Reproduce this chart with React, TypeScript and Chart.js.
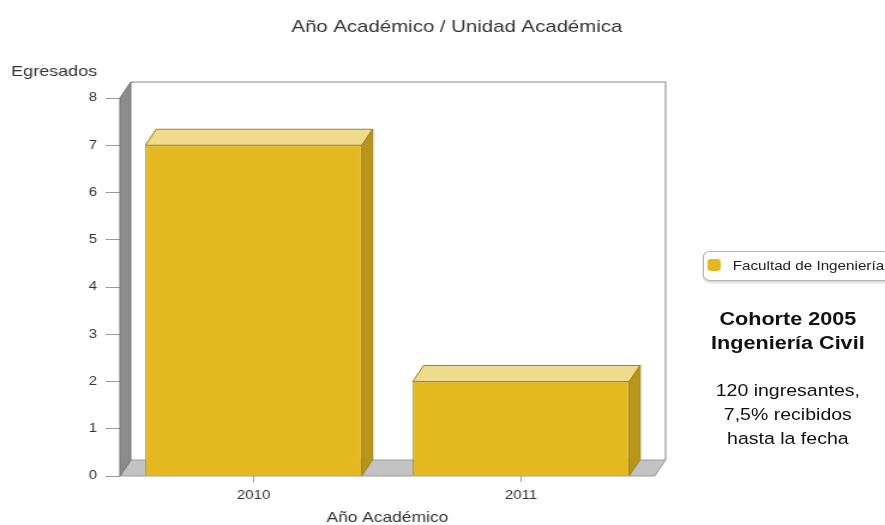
import React, { useEffect, useRef } from 'react';
import { Chart, registerables } from 'chart.js';

Chart.register(...registerables);

// ---- data ----
const categories = ['2010', '2011'];
const egresados = [7, 2];
const yTicks = [0, 1, 2, 3, 4, 5, 6, 7, 8];
const seriesName = 'Facultad de Ingeniería';
const chartTitle = 'Año Académico / Unidad Académica';
const xTitle = 'Año Académico';
const yTitle = 'Egresados';
const noteTitle = ['Cohorte 2005', 'Ingeniería Civil'];
const noteBody = ['120 ingresantes,', '7,5% recibidos', 'hasta la fecha'];

// ---- layout / style ----
const W = 738;
const H = 525;
const SX = 885 / W;
const DX = 9;
const DY = 16;
const FONT = "'Liberation Sans', Arial, sans-serif";
const BAR_FRONT = '#e4b91f';
const BAR_TOP = '#efdb8c';
const BAR_SIDE = '#b8961c';
const BAR_EDGE = '#a3841a';

function poly(ctx: CanvasRenderingContext2D, pts: number[][], fill: string, stroke: string, lw = 1) {
  ctx.beginPath();
  ctx.moveTo(pts[0][0], pts[0][1]);
  for (let i = 1; i < pts.length; i++) ctx.lineTo(pts[i][0], pts[i][1]);
  ctx.closePath();
  ctx.fillStyle = fill;
  ctx.fill();
  ctx.strokeStyle = stroke;
  ctx.lineWidth = lw;
  ctx.stroke();
}

const threeD = {
  id: 'threeD',
  beforeDatasetsDraw(chart: any) {
    const { ctx, chartArea } = chart;
    const { left, right, top, bottom } = chartArea;
    ctx.save();
    // back wall
    ctx.fillStyle = '#ffffff';
    ctx.fillRect(left + DX, top - DY, right - left, bottom - top);
    ctx.strokeStyle = '#b0b0b0';
    ctx.lineWidth = 1.5;
    ctx.beginPath();
    ctx.moveTo(left + DX, top - DY);
    ctx.lineTo(right + DX, top - DY);
    ctx.lineTo(right + DX, bottom - DY);
    ctx.stroke();
    // floor
    poly(ctx, [[left, bottom], [left + DX, bottom - DY], [right + DX, bottom - DY], [right, bottom]], '#c3c3c5', '#9c9c9c');
    // left wall
    poly(ctx, [[left, top], [left + DX, top - DY], [left + DX, bottom - DY], [left, bottom]], '#8c8c8c', '#727272');
    ctx.restore();
  },
  afterDatasetsDraw(chart: any) {
    const { ctx } = chart;
    const meta = chart.getDatasetMeta(0);
    ctx.save();
    meta.data.forEach((bar: any) => {
      const { x, y, base, width } = bar.getProps(['x', 'y', 'base', 'width'], true);
      const l = x - width / 2;
      const r = x + width / 2;
      poly(ctx, [[l, y], [l + DX, y - DY], [r + DX, y - DY], [r, y]], BAR_TOP, BAR_EDGE);
      poly(ctx, [[r, y], [r + DX, y - DY], [r + DX, base - DY], [r, base]], BAR_SIDE, BAR_EDGE);
    });
    ctx.restore();
  },
  afterDraw(chart: any) {
    const { ctx, chartArea } = chart;
    ctx.save();
    ctx.fillStyle = '#333333';
    ctx.textBaseline = 'alphabetic';
    ctx.font = `17px ${FONT}`;
    ctx.textAlign = 'center';
    ctx.fillText(chartTitle, 381, 32);
    ctx.font = `15px ${FONT}`;
    ctx.textAlign = 'right';
    ctx.fillText(yTitle, 81, 76);
    ctx.font = `14.5px ${FONT}`;
    ctx.textAlign = 'center';
    ctx.fillText(xTitle, (chartArea.left + chartArea.right) / 2, 522);
    ctx.restore();
  },
};

export default function App() {
  const ref = useRef<HTMLCanvasElement | null>(null);

  useEffect(() => {
    if (!ref.current) return;
    const chart = new Chart(ref.current, {
      type: 'bar',
      data: {
        labels: categories,
        datasets: [
          {
            label: seriesName,
            data: egresados,
            backgroundColor: BAR_FRONT,
            borderColor: BAR_EDGE,
            borderWidth: 1,
            categoryPercentage: 1,
            barPercentage: 0.81,
          },
        ],
      },
      options: {
        responsive: false,
        animation: false,
        layout: { padding: { top: 98, right: 192, left: 0, bottom: 0 } },
        plugins: {
          legend: { display: false },
          title: { display: false },
          tooltip: { enabled: false },
        },
        scales: {
          x: {
            grid: {
              display: true,
              offset: false,
              drawOnChartArea: false,
              drawTicks: true,
              tickLength: 6,
              color: '#9a9a9a',
            },
            border: { display: false },
            ticks: { padding: 6, color: '#333333', font: { family: FONT, size: 12.5 } },
            afterFit: (s: any) => {
              s.height = 49;
            },
          },
          y: {
            min: 0,
            max: 8,
            grid: { display: true, drawOnChartArea: false, drawTicks: true, tickLength: 12, color: '#9a9a9a' },
            border: { display: false },
            ticks: { stepSize: 1, padding: 7, color: '#333333', font: { family: FONT, size: 12.5 } },
            afterBuildTicks: (s: any) => {
              s.ticks = yTicks.map((v) => ({ value: v }));
            },
            afterFit: (s: any) => {
              s.width = 100;
            },
          },
        },
      } as any,
      plugins: [threeD],
    });
    return () => chart.destroy();
  }, []);

  return (
    <div
      style={{
        position: 'absolute',
        left: 0,
        top: 0,
        width: W,
        height: H,
        overflow: 'hidden',
        background: '#ffffff',
        transform: `scaleX(${SX})`,
        transformOrigin: '0 0',
        fontFamily: FONT,
        color: '#000',
      }}
    >
      <canvas ref={ref} width={W} height={H} style={{ display: 'block', width: W, height: H }} />
      <div
        style={{
          position: 'absolute',
          left: 586,
          top: 251,
          width: 170,
          height: 28,
          border: '1px solid #b5b5b5',
          borderRadius: 6,
          boxShadow: '1px 2px 2px rgba(0,0,0,0.15)',
          background: '#fff',
        }}
      >
        <div
          style={{
            position: 'absolute',
            left: 3,
            top: 7,
            width: 11,
            height: 12,
            borderRadius: 3,
            background: BAR_FRONT,
          }}
        />
        <div
          style={{
            position: 'absolute',
            left: 24,
            top: 0,
            height: 28,
            lineHeight: '28px',
            fontSize: 12.7,
            color: '#222',
            whiteSpace: 'nowrap',
          }}
        >
          {seriesName}
        </div>
      </div>
      <div
        style={{
          position: 'absolute',
          left: 557,
          width: 200,
          top: 307,
          textAlign: 'center',
          fontWeight: 'bold',
          fontSize: 18,
          lineHeight: '24px',
          color: '#111',
        }}
      >
        {noteTitle.map((t) => (
          <div key={t}>{t}</div>
        ))}
      </div>
      <div
        style={{
          position: 'absolute',
          left: 557,
          width: 200,
          top: 378,
          textAlign: 'center',
          fontSize: 16.3,
          lineHeight: '24px',
          color: '#111',
        }}
      >
        {noteBody.map((t) => (
          <div key={t}>{t}</div>
        ))}
      </div>
    </div>
  );
}
